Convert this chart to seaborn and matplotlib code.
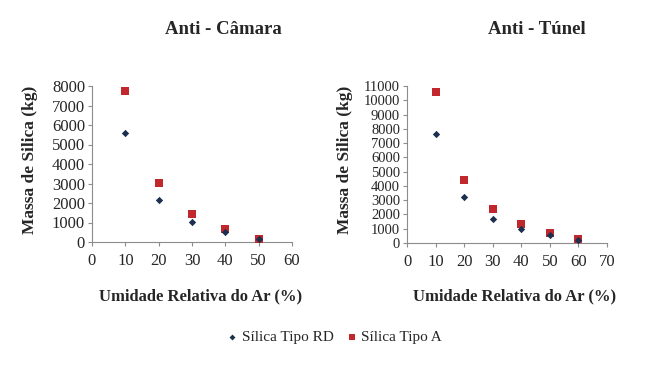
import pandas as pd
import matplotlib.pyplot as plt
import seaborn as sns

# Umidade relativa (%) e massa de silica (kg)
umidade_camara = [10, 20, 30, 40, 50]
rd_camara = [5600, 2150, 1030, 510, 150]
a_camara = [7750, 3050, 1450, 650, 170]

umidade_tunel = [10, 20, 30, 40, 50, 60]
rd_tunel = [7620, 3220, 1680, 980, 550, 200]
a_tunel = [10550, 4400, 2380, 1310, 700, 260]

series_names = ["Sílica Tipo RD", "Sílica Tipo A"]
titles = ["Anti - Câmara", "Anti - Túnel"]

sns.set_style("white")
plt.rcParams['font.family'] = ['Liberation Serif', 'DejaVu Serif']

palette = {"Sílica Tipo RD": "#1b2f4e", "Sílica Tipo A": "#c0282d"}
markers = {"Sílica Tipo RD": "D", "Sílica Tipo A": "s"}
sizes = {"Sílica Tipo RD": 14, "Sílica Tipo A": 30}


def long_form(x, rd, a):
    df_rd = pd.DataFrame({"x": x, "y": rd, "serie": series_names[0]})
    df_a = pd.DataFrame({"x": x, "y": a, "serie": series_names[1]})
    return pd.concat([df_rd, df_a], ignore_index=True)


fig = plt.figure(figsize=(6.51, 3.65), dpi=100)
W, H = 651, 365
ax1 = fig.add_axes([92 / W, 1 - 242 / H, 200 / W, 156 / H])
ax2 = fig.add_axes([407 / W, 1 - 243 / H, 200 / W, 157 / H])

panels = [
    (ax1, long_form(umidade_camara, rd_camara, a_camara), 60, 8000, 12),
    (ax2, long_form(umidade_tunel, rd_tunel, a_tunel), 70, 11000, 10.5),
]

for ax, df, xmax, ymax, ysize in panels:
    for name in series_names:
        sub = df[df["serie"] == name]
        sns.scatterplot(data=sub, x="x", y="y", ax=ax, color=palette[name],
                        marker=markers[name], s=sizes[name], linewidth=0,
                        label=name, legend=False, zorder=3 if name == series_names[1] else 4)
    ax.set_xlim(0, xmax)
    ax.set_ylim(0, ymax)
    ax.set_xticks(range(0, xmax + 1, 10))
    ax.set_yticks(range(0, ymax + 1, 1000))
    ax.set_xlabel("")
    ax.set_ylabel("")
    sns.despine(ax=ax)
    for s in ["left", "bottom"]:
        ax.spines[s].set_color("#8c8c8c")
        ax.spines[s].set_linewidth(0.8)
    ax.tick_params(axis="both", length=3, color="#8c8c8c",
                   direction="out", pad=2, left=True, bottom=True)
    ax.tick_params(axis="x", pad=5, labelsize=12)
    ax.tick_params(axis="y", labelsize=ysize)

# titulos e rotulos
fig.text(223 / W, 1 - 30 / H, titles[0], ha="center", va="center",
         fontsize=13.5, fontweight="bold")
fig.text(537 / W, 1 - 30 / H, titles[1], ha="center", va="center",
         fontsize=13.5, fontweight="bold")
for xc in (201, 515):
    fig.text(xc / W, 1 - 296 / H, "Umidade Relativa do Ar (%)", ha="center",
             va="center", fontsize=12, fontweight="bold")
for xc in (30, 345):
    fig.text(xc / W, 1 - 160 / H, "Massa de Silica (kg)", ha="center",
             va="center", fontsize=12.5, fontweight="bold", rotation=90)

handles, labels = ax1.get_legend_handles_labels()
fig.legend(handles, labels, loc="center", bbox_to_anchor=(334 / W, 1 - 337 / H),
           ncol=2, frameon=False, fontsize=11, handletextpad=0.2,
           handlelength=0.8, columnspacing=0.8, markerscale=0.8)

fig.savefig("out.png", dpi=100, facecolor="white")
